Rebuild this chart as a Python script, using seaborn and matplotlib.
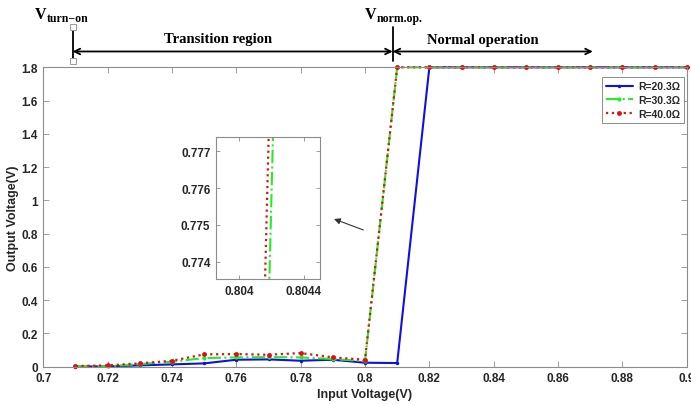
import numpy as np
import pandas as pd
import seaborn as sns
import matplotlib.pyplot as plt

# %% data
v_in = [0.71, 0.72, 0.73, 0.74, 0.75, 0.76, 0.77, 0.78, 0.79, 0.80,
        0.81, 0.82, 0.83, 0.84, 0.85, 0.86, 0.87, 0.88, 0.89, 0.90]
v_out_203 = [0.001, 0.002, 0.008, 0.014, 0.020, 0.042, 0.044, 0.036, 0.042, 0.024,
             0.022, 1.8, 1.8, 1.8, 1.8, 1.8, 1.8, 1.8, 1.8, 1.8]
v_out_303 = [0.003, 0.002, 0.016, 0.030, 0.052, 0.056, 0.058, 0.056, 0.046, 0.034,
             1.8, 1.8, 1.8, 1.8, 1.8, 1.8, 1.8, 1.8, 1.8, 1.8]
v_out_400 = [0.004, 0.008, 0.020, 0.036, 0.074, 0.076, 0.072, 0.082, 0.056, 0.042,
             1.8, 1.8, 1.8, 1.8, 1.8, 1.8, 1.8, 1.8, 1.8, 1.8]
labels = ['R=20.3Ω', 'R=30.3Ω', 'R=40.0Ω']

x_ticks = [0.7, 0.72, 0.74, 0.76, 0.78, 0.8, 0.82, 0.84, 0.86, 0.88, 0.9]
x_tick_labels = ['0.7', '0.72', '0.74', '0.76', '0.78', '0.8', '0.82', '0.84', '0.86', '0.88', '0.9']
y_ticks = [0, 0.2, 0.4, 0.6, 0.8, 1.0, 1.2, 1.4, 1.6, 1.8]
y_tick_labels = ['0', '0.2', '0.4', '0.6', '0.8', '1', '1.2', '1.4', '1.6', '1.8']
inset_x_ticks = [0.804, 0.8044]
inset_y_ticks = [0.774, 0.775, 0.776, 0.777]

# annotation positions (data coords)
v_turn_on = 0.7091
v_norm_op = 0.8086
normal_end = 0.8708

df = pd.DataFrame({'vin': v_in, 'r203': v_out_203, 'r303': v_out_303, 'r400': v_out_400})

# %% styling
sns.set_theme(style="ticks")
plt.rcParams['font.family'] = ['Liberation Sans', 'DejaVu Sans']
plt.rcParams['font.weight'] = 'bold'
plt.rcParams['axes.edgecolor'] = '#8c8c8c'
plt.rcParams['axes.linewidth'] = 0.8
plt.rcParams['xtick.color'] = '#8c8c8c'
plt.rcParams['ytick.color'] = '#8c8c8c'
plt.rcParams['xtick.labelcolor'] = '#262626'
plt.rcParams['ytick.labelcolor'] = '#262626'

series = [
    ('r203', '#1010e0', '-', '.', 5, 1.5),
    ('r303', '#22ee22', '-.', '.', 6, 1.5),
    ('r400', '#dd1111', ':', 'o', 3.5, 1.6),
]

fig = plt.figure(figsize=(6.91, 4.06), dpi=100)
ax = fig.add_axes([0.0627, 0.0943, 0.9311, 0.7375])

for (col, color, ls, mk, ms, lw), lab in zip(series, labels):
    sns.lineplot(data=df, x='vin', y=col, ax=ax, color=color, linestyle=ls,
                 marker=mk, markersize=ms, markeredgewidth=0, linewidth=lw,
                 label=lab, clip_on=False)

ax.set_xlim(0.7, 0.9)
ax.set_ylim(0, 1.8)
ax.set_xticks(x_ticks)
ax.set_xticklabels(x_tick_labels, fontsize=8.5, fontweight='bold')
ax.set_yticks(y_ticks)
ax.set_yticklabels(y_tick_labels, fontsize=8.5, fontweight='bold')
ax.tick_params(direction='in', length=4, width=0.6, top=True, right=True, pad=4)
ax.set_xlabel('Input Voltage(V)', fontsize=9, fontweight='bold', color='#262626', labelpad=3)
ax.set_ylabel('Output Voltage(V)', fontsize=9, fontweight='bold', color='#262626', labelpad=2)

leg = ax.legend(loc='upper right', bbox_to_anchor=(0.996, 0.967), borderaxespad=0,
                fancybox=False, framealpha=1, edgecolor='#8c8c8c',
                prop={'size': 7.5, 'weight': 'bold'}, handlelength=2.6,
                labelspacing=0.35, borderpad=0.4, handletextpad=0.5)
leg.get_frame().set_linewidth(0.7)

# %% annotations above the axes
serif = ['Liberation Serif', 'DejaVu Serif']
for xv in [v_turn_on, v_norm_op]:
    ax.plot([xv, xv], [1.838, 2.043], color='black', lw=1.3, clip_on=False)
ax.plot([v_turn_on, v_turn_on], [1.838, 2.043], ls='none', marker='s', ms=4,
        mfc='white', mec='#999999', mew=0.7, clip_on=False)

ax.annotate('', xy=(v_turn_on, 1.895), xytext=(v_norm_op, 1.895), xycoords='data',
            arrowprops=dict(arrowstyle='<->', color='black', lw=1.3,
                            shrinkA=0, shrinkB=0, mutation_scale=10), annotation_clip=False)
ax.annotate('', xy=(v_norm_op, 1.895), xytext=(normal_end, 1.895), xycoords='data',
            arrowprops=dict(arrowstyle='<->', color='black', lw=1.3,
                            shrinkA=0, shrinkB=0, mutation_scale=10), annotation_clip=False)

ax.text(0.7543, 1.975, 'Transition region', family=serif, fontsize=10.5,
        fontweight='bold', ha='center', va='center', color='black')
ax.text(0.8367, 1.97, 'Normal operation', family=serif, fontsize=10.5,
        fontweight='bold', ha='center', va='center', color='black')

# V with subscript, drawn as two serif texts
for x0, sub in [(0.6975, 'turn\u2212on'), (0.7999, 'norm.op.')]:
    ax.annotate('V', xy=(x0, 2.095), xycoords='data', family=serif, fontsize=11.5,
                fontweight='bold', ha='left', va='baseline', color='black',
                annotation_clip=False)
    ax.annotate(sub, xy=(x0, 2.095), xycoords='data', xytext=(8.6, -2.0),
                textcoords='offset points', family=serif, fontsize=8.5,
                fontweight='bold', ha='left', va='baseline', color='black',
                annotation_clip=False)

# pointer to the inset
ax.annotate('', xy=(0.79036, 0.888), xytext=(0.79947, 0.822),
            arrowprops=dict(arrowstyle='-|>', color='#333333', lw=0.8,
                            shrinkA=0, shrinkB=0, mutation_scale=9))

# %% zoomed inset
axin = fig.add_axes([0.3126, 0.3103, 0.1509, 0.3505])
for (col, color, ls, mk, ms, lw) in series[1:]:
    sns.lineplot(data=df, x='vin', y=col, ax=axin, color=color, linestyle=ls,
                 linewidth=lw, legend=False)
axin.set_xlim(0.80386, 0.8045)
axin.set_ylim(0.77353, 0.7774)
axin.set_xticks(inset_x_ticks)
axin.set_xticklabels(['0.804', '0.8044'], fontsize=8.5, fontweight='bold')
axin.set_yticks(inset_y_ticks)
axin.set_yticklabels(['0.774', '0.775', '0.776', '0.777'], fontsize=8.5, fontweight='bold')
axin.tick_params(direction='in', length=3, width=0.6, top=True, right=True, pad=4)
axin.set_xlabel('')
axin.set_ylabel('')

fig.savefig('out.png', dpi=100)
